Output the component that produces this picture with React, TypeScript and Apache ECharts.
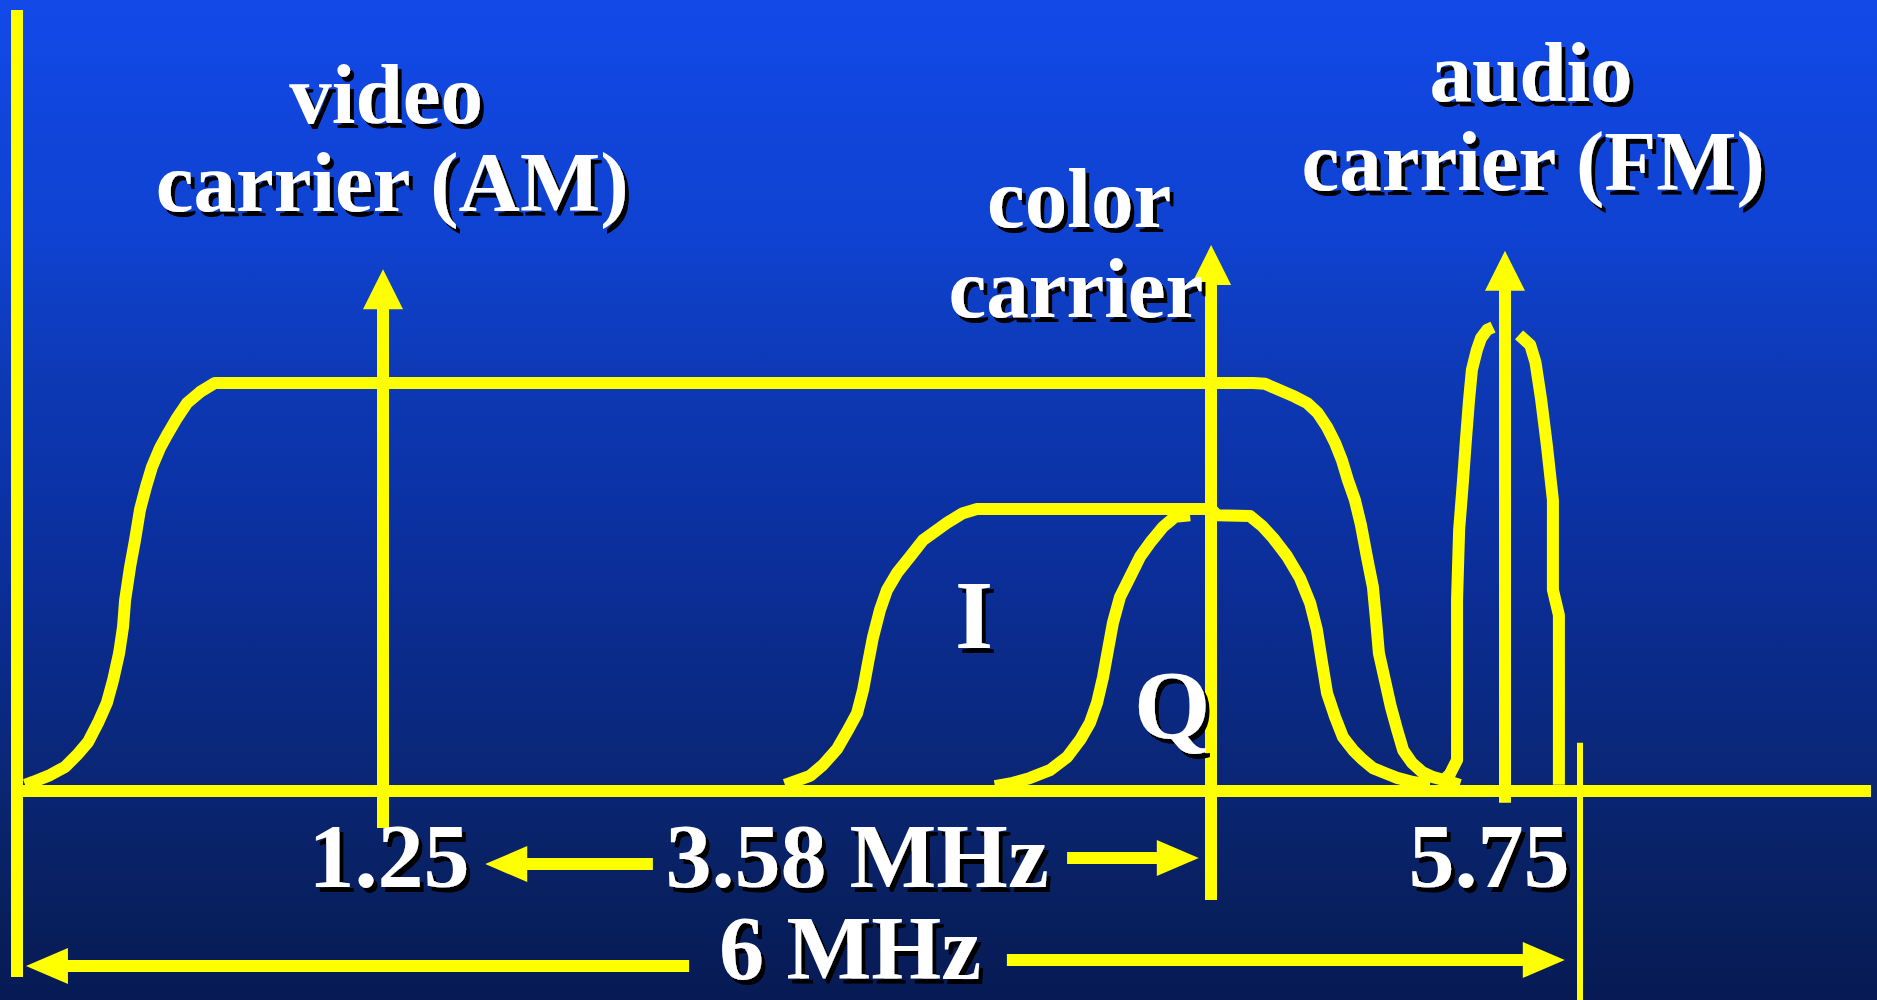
import React, { useEffect, useRef } from "react";
import * as echarts from "echarts";

// Schematic frequency axis (MHz, not to scale) and relative amplitude.
const videoBand: number[][] = [
  [0.031, 0.015], [0.061, 0.022], [0.127, 0.039], [0.184, 0.059], [0.23, 0.088], [0.273, 0.12],
  [0.311, 0.167], [0.345, 0.216], [0.369, 0.272], [0.392, 0.338], [0.407, 0.402], [0.415, 0.468],
  [0.434, 0.549], [0.453, 0.615], [0.472, 0.689], [0.495, 0.745], [0.518, 0.794], [0.549, 0.841],
  [0.58, 0.877], [0.614, 0.914], [0.653, 0.951], [0.703, 0.978], [0.76, 1.0], [4.745, 1.0],
  [4.791, 0.998], [4.837, 0.985], [4.906, 0.966], [4.952, 0.951], [4.994, 0.926], [5.029, 0.892],
  [5.06, 0.853], [5.086, 0.811], [5.109, 0.762], [5.136, 0.713], [5.159, 0.652], [5.182, 0.574],
  [5.205, 0.5], [5.217, 0.419], [5.228, 0.338], [5.251, 0.272], [5.274, 0.206], [5.298, 0.15],
  [5.321, 0.1], [5.355, 0.069], [5.393, 0.047], [5.436, 0.034], [5.489, 0.025], [5.539, 0.015],
];

const iBand: number[][] = [
  [2.948, 0.015], [3.044, 0.037], [3.094, 0.064], [3.148, 0.103], [3.186, 0.145], [3.225, 0.191],
  [3.248, 0.248], [3.267, 0.314], [3.286, 0.377], [3.313, 0.444], [3.34, 0.493], [3.378, 0.534],
  [3.428, 0.574], [3.478, 0.615], [3.57, 0.657], [3.631, 0.681], [3.685, 0.691], [4.584, 0.691],
  [4.607, 0.676], [4.733, 0.674], [4.779, 0.65], [4.822, 0.62], [4.875, 0.576], [4.925, 0.522],
  [4.964, 0.461], [4.99, 0.395], [5.01, 0.314], [5.029, 0.24], [5.06, 0.181], [5.09, 0.132],
  [5.129, 0.1], [5.167, 0.076], [5.205, 0.056], [5.251, 0.044], [5.298, 0.032], [5.359, 0.022],
  [5.424, 0.015],
];

const qBand: number[][] = [
  [3.754, 0.012], [3.823, 0.02], [3.889, 0.032], [3.965, 0.051], [4.031, 0.083], [4.081, 0.125],
  [4.119, 0.167], [4.146, 0.216], [4.169, 0.279], [4.188, 0.346], [4.207, 0.412], [4.234, 0.475],
  [4.273, 0.525], [4.311, 0.574], [4.349, 0.608], [4.399, 0.647], [4.445, 0.672], [4.503, 0.676],
];

const audioLower: number[][] = [
  [5.463, 0.017], [5.501, 0.042], [5.528, 0.076], [5.528, 0.468], [5.536, 0.64], [5.551, 0.762],
  [5.562, 0.86], [5.574, 0.958], [5.585, 1.032], [5.604, 1.081], [5.62, 1.11], [5.643, 1.13],
  [5.666, 1.137],
];

const audioUpper: number[][] = [
  [5.766, 1.118], [5.809, 1.093], [5.829, 1.051], [5.85, 0.963], [5.873, 0.846], [5.896, 0.713],
  [5.896, 0.493], [5.919, 0.431], [5.919, 0.015],
];

// Carriers: frequency position, arrowhead centre and lower end
const carrierNames = ["video", "color", "audio"];
const carrierX = [1.405, 4.584, 5.712];
const carrierHead = [1.23, 1.289, 1.275];
const carrierBottom = [-0.091, -0.267, -0.029];

// Dimension arrows: start x, arrowhead centre x, level
const spanFrom = [2.441, 4.031, 2.58, 3.8];
const spanHead = [1.878, 4.456, 0.115, 5.861];
const spanLevel = [-0.179, -0.164, -0.429, -0.414];

// Frame: baseline extent, left axis, 6 MHz edge marker
const baselineEnd = 7.117;
const leftAxisTop = 1.914;
const leftAxisBottom = -0.456;
const channelEdge = 6;
const channelEdgeTop = 0.118;
const channelEdgeBottom = -0.512;

// Axis extents (whole picture)
const xMin = -0.0653;
const xMax = 7.1401;
const yMin = -0.5123;
const yMax = 1.9387;

// Text annotations
const headLabels = ["video", "carrier (AM)", "color", "carrier", "audio", "carrier (FM)"];
const headLabelX = [1.417, 1.44, 4.077, 4.065, 5.812, 5.82];
const headLabelY = [1.708, 1.493, 1.453, 1.233, 1.762, 1.544];

const freqLabels = ["1.25", "3.58 MHz", "5.75"];
const freqLabelX = [1.428, 3.225, 5.651];
const freqLabelY = [-0.159, -0.159, -0.159];

const widthLabels = ["6 MHz"];
const widthLabelX = [3.198];
const widthLabelY = [-0.385];

const bandLabels = ["I", "Q"];
const bandLabelX = [3.674, 4.434];
const bandLabelY = [0.431, 0.211];

const YELLOW = "#FFFF00";

function seg(a: number[], b: number[], width: number, arrow: number[] | null) {
  return [
    { coord: a, symbol: "none", lineStyle: { color: YELLOW, width, type: "solid", opacity: 1 } },
    arrow
      ? { coord: b, symbol: "triangle", symbolSize: arrow }
      : { coord: b, symbol: "none" },
  ];
}

function textSeries(
  names: string[],
  xs: number[],
  ys: number[],
  fontSize: number,
  lineHeight: number,
  fontFamily: string
) {
  return {
    type: "scatter",
    silent: true,
    clip: false,
    z: 10,
    symbolSize: 1,
    itemStyle: { color: "rgba(0,0,0,0)", opacity: 1 },
    data: names.map((n, i) => ({ name: n, value: [xs[i], ys[i]] })),
    label: {
      show: true,
      position: "inside",
      formatter: "{b}",
      color: "#ffffff",
      opacity: 1,
      fontFamily,
      fontWeight: "bold",
      fontSize,
      lineHeight,
      textShadowColor: "#000000",
      textShadowOffsetX: 4,
      textShadowOffsetY: 5,
      textShadowBlur: 0.1,
    },
  };
}

function curve(name: string, data: number[][]) {
  return {
    type: "line",
    name,
    data,
    clip: false,
    silent: true,
    symbol: "none",
    smooth: false,
    z: 3,
    lineStyle: { color: YELLOW, width: 12, join: "round", cap: "butt" },
  };
}

export default function App() {
  const ref = useRef<HTMLDivElement>(null);

  useEffect(() => {
    if (!ref.current) return;
    document.body.style.margin = "0";
    const chart = echarts.init(ref.current, undefined, { renderer: "svg" });

    const marks: any[] = [];
    marks.push(seg([0, leftAxisTop], [0, leftAxisBottom], 12, null));
    marks.push(seg([channelEdge, channelEdgeTop], [channelEdge, channelEdgeBottom], 6, null));
    carrierNames.forEach((_, i) => {
      marks.push(seg([carrierX[i], carrierBottom[i]], [carrierX[i], carrierHead[i]], 12, [40, 40]));
    });
    spanFrom.forEach((_, i) => {
      marks.push(seg([spanFrom[i], spanLevel[i]], [spanHead[i], spanLevel[i]], 12, [36, 42]));
    });

    const serif = '"Liberation Serif", "Times New Roman", serif';

    chart.setOption({
      animation: false,
      backgroundColor: "transparent",
      grid: { left: 0, top: 0, width: 1877, height: 1000, containLabel: false },
      xAxis: { type: "value", min: xMin, max: xMax, show: false },
      yAxis: { type: "value", min: yMin, max: yMax, show: false },
      tooltip: { show: false },
      series: [
        {
          type: "line",
          name: "baseline",
          data: [[0, 0], [baselineEnd, 0]],
          clip: false,
          silent: true,
          symbol: "none",
          z: 2,
          lineStyle: { color: YELLOW, width: 12 },
          markLine: {
            silent: true,
            animation: false,
            symbol: ["none", "none"],
            label: { show: false },
            emphasis: { disabled: true },
            lineStyle: { color: YELLOW, width: 12, type: "solid" },
            itemStyle: { color: YELLOW },
            data: marks,
          },
        },
        curve("video band", videoBand),
        curve("I", iBand),
        curve("Q", qBand),
        curve("audio lower", audioLower),
        curve("audio upper", audioUpper),
        textSeries(headLabels, headLabelX, headLabelY, 85, 76, serif),
        textSeries(freqLabels, freqLabelX, freqLabelY, 92, 64, serif),
        textSeries(widthLabels, widthLabelX, widthLabelY, 90, 64, serif),
        textSeries(bandLabels, bandLabelX, bandLabelY, 98, 70, serif),
      ],
    });

    return () => chart.dispose();
  }, []);

  return (
    <div
      ref={ref}
      style={{
        width: 1877,
        height: 1000,
        background:
          "linear-gradient(to bottom, #1249E8 0%, #0F42D0 24%, #0D3AB8 36%, #0B30A0 53%, #0A2675 78%, #08205F 90%, #071A55 100%)",
      }}
    />
  );
}
